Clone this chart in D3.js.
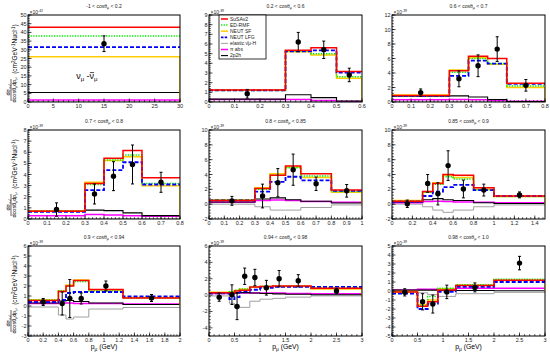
<!DOCTYPE html>
<html>
<head>
<meta charset="utf-8">
<script src="https://cdn.jsdelivr.net/npm/d3@7"></script>
<style>
body { margin: 0; background: #fff; }
svg text { font-family: "Liberation Sans", Arial, sans-serif; }
</style>
</head>
<body>
<div id="chart"></div>
<script>
// panel ranges (cos theta bins)
var cosLo = ["-1", "0.2", "0.6", "0.7", "0.8", "0.85", "0.9", "0.94", "0.98"];
var cosHi = ["0.2", "0.6", "0.7", "0.8", "0.85", "0.9", "0.94", "0.98", "1.0"];
var expo = ["-42", "-39", "-39", "-39", "-39", "-39", "-39", "-39", "-39"];

var xMax = [30, 0.6, 0.8, 0.8, 1, 1.5, 2, 3, 3];
var yMin = [0, 0, 0, 0, -2, -2, -3, -5, -5];
var yMax = [50, 9, 12, 8, 10, 10, 6, 6, 5];
var xStep = [5, 0.1, 0.1, 0.1, 0.1, 0.2, 0.2, 0.5, 0.5];
var yStep = [5, 1, 2, 1, 2, 2, 1, 2, 1];

var binEdges = [
  [0, 30],
  [0, 0.3, 0.4, 0.5, 0.6],
  [0, 0.3, 0.4, 0.5, 0.6, 0.8],
  [0, 0.3, 0.4, 0.5, 0.6, 0.8],
  [0, 0.3, 0.4, 0.5, 0.6, 0.8, 1.0],
  [0, 0.3, 0.4, 0.5, 0.6, 0.8, 1.0, 1.5],
  [0, 0.4, 0.5, 0.6, 0.8, 1.25, 2.0],
  [0, 0.4, 0.5, 0.6, 0.8, 1.0, 1.25, 1.5, 2.0, 3.0],
  [0, 0.5, 0.7, 0.9, 1.25, 2.0, 3.0]
];

var susav2 = [
  [43],
  [1.25, 5.35, 5.6, 3.15],
  [0.9, 4.3, 6.3, 6.0, 2.6],
  [0.7, 3.2, 5.45, 6.15, 3.7],
  [0.5, 2.1, 3.9, 5.15, 4.1, 1.9],
  [0.4, 1.7, 2.8, 4.0, 3.9, 2.2, 1.1],
  [0.55, 1.45, 2.0, 2.55, 1.65, 0.8],
  [0.3, 0.3, 0.5, 0.6, 1.0, 1.05, 1.1, 1.1, 0.85],
  [-0.1, -1.7, -1.2, 0.1, 0.6, 1.2]
];
var edrmf = [
  [38],
  [1.2, 5.25, 5.0, 2.6],
  [0.85, 4.1, 6.0, 5.3, 2.2],
  [0.7, 3.1, 5.3, 5.75, 3.2],
  [0.55, 2.0, 3.9, 4.9, 3.8, 1.7],
  [0.4, 1.6, 2.7, 3.7, 3.4, 1.9, 1.05],
  [0.6, 1.5, 2.0, 2.45, 1.5, 0.8],
  [0.3, 0.4, 0.6, 0.75, 1.0, 1.05, 1.1, 1.1, 0.9],
  [-0.1, -1.6, -0.6, 0.3, 0.7, 1.3]
];
var neutSF = [
  [26],
  [1.25, 5.2, 4.85, 2.45],
  [0.95, 4.4, 6.1, 5.2, 2.0],
  [0.75, 3.3, 5.25, 5.6, 3.0],
  [0.6, 2.2, 4.1, 5.0, 3.6, 1.6],
  [0.5, 1.6, 2.9, 3.9, 3.6, 2.0, 1.05],
  [0.6, 1.5, 2.1, 2.6, 1.6, 0.85],
  [0.35, 0.4, 0.55, 0.7, 1.0, 1.05, 1.05, 1.05, 0.75],
  [-0.05, -1.5, -1.0, 0.25, 0.65, 1.2]
];
var neutLFG = [
  [31.5],
  [1.2, 5.25, 5.35, 3.05],
  [0.85, 3.6, 5.7, 5.3, 2.5],
  [0.65, 2.6, 4.4, 5.1, 3.1],
  [0.5, 1.7, 3.0, 3.7, 3.2, 1.8],
  [0.35, 1.1, 1.7, 2.3, 2.6, 1.9, 1.1],
  [0.4, 0.6, 1.3, 1.4, 1.4, 0.95],
  [0.2, -0.5, -0.25, 0.45, 0.65, 0.9, 1.0, 1.0, 1.0],
  [-0.3, -2.0, -1.4, -0.1, 0.45, 1.0]
];
var elastic = [
  [0],
  [0, 0, 0, 0],
  [0, 0, 0, 0, 0],
  [0, 0, 0, 0, 0],
  [0, -0.35, -0.8, -0.8, -0.45, -0.1],
  [0, -0.35, -0.8, -1.1, -0.8, -0.35, -0.1],
  [-0.1, -0.9, -1.3, -1.1, -0.3, -0.15],
  [-0.1, -1.0, -1.5, -1.5, -0.75, -0.5, -0.4, -0.25, -0.1],
  [0, -0.2, -0.4, -0.6, -0.3, -0.15]
];
var piAbs = [
  [1.2],
  [0.25, 0.25, 0.15, 0.05],
  [0.3, 0.35, 0.3, 0.2, 0.1],
  [0.3, 0.4, 0.35, 0.3, 0.25],
  [0.25, 0.5, 0.55, 0.5, 0.35, 0.25],
  [0.2, 0.35, 0.4, 0.35, 0.3, 0.25, 0.2],
  [0.25, 0.3, 0.3, 0.25, 0.25, 0.2],
  [0.2, 0.2, 0.25, 0.25, 0.25, 0.25, 0.25, 0.2, 0.15],
  [0.1, 0.2, 0.2, 0.25, 0.3, 0.3]
];
var twoP2h = [
  [5.5],
  [0.3, 0.75, 0.45, 0.1],
  [0.8, 0.85, 0.7, 0.35, 0.05],
  [0.7, 0.8, 0.75, 0.55, 0.3],
  [0.3, 0.7, 0.85, 0.6, 0.4, 0.15],
  [0.3, 0.6, 0.75, 0.6, 0.5, 0.2, 0.1],
  [0.3, 0.5, 0.55, 0.45, 0.3, 0.15],
  [0.3, 0.3, 0.3, 0.3, 0.25, 0.2, 0.15, 0.1, 0.05],
  [0.1, 0.1, 0.1, 0.05, 0.05, 0.02]
];

var dataX = [
  [15],
  [0.15, 0.35, 0.45, 0.55],
  [0.15, 0.35, 0.45, 0.55, 0.7],
  [0.15, 0.35, 0.45, 0.55, 0.7],
  [0.15, 0.35, 0.45, 0.55, 0.7, 0.9],
  [0.15, 0.35, 0.45, 0.55, 0.7, 0.9, 1.25],
  [0.2, 0.45, 0.55, 0.7, 1.025, 1.625],
  [0.2, 0.45, 0.55, 0.7, 0.9, 1.125, 1.375, 1.75, 2.5],
  [0.25, 0.6, 0.8, 1.075, 1.625, 2.5]
];
var dataY = [
  [33.5],
  [0.85, 6.2, 5.4, 2.8],
  [1.3, 3.2, 5.0, 7.3, 2.3],
  [0.85, 2.25, 3.85, 4.9, 3.3],
  [0.45, 1.1, 2.9, 4.65, 2.75, 1.8],
  [0.05, 2.8, 1.4, 5.2, 2.05, 1.9, 1.25],
  [0.4, 0.25, 0.75, 0.75, 2.0, 0.8],
  [-0.25, 0.05, -1.4, 2.3, 2.15, 0.9, 2.0, 1.75, 0.5],
  [-0.15, -1.2, -1.45, -0.1, 0.4, 3.1]
];
var dataErr = [
  [4.5],
  [0.45, 1.0, 0.9, 0.7],
  [0.5, 1.1, 1.5, 1.7, 0.8],
  [0.6, 0.9, 1.3, 1.75, 0.9],
  [0.6, 1.6, 1.9, 2.1, 0.9, 0.85],
  [0.5, 1.2, 1.5, 2.0, 1.2, 0.8, 0.4],
  [0.35, 1.15, 1.9, 0.55, 0.5, 0.35],
  [0.5, 1.2, 1.6, 1.0, 1.0, 0.9, 1.0, 0.75, 0.3],
  [0.4, 0.9, 1.0, 0.75, 0.5, 0.75]
];

var legendNames = ["SuSAv2", "ED-RMF", "NEUT SF", "NEUT LFG", "elastic \u03BD\u0304\u03BC-H", "\u03C0 abs", "2p2h"];

// styles
var series = [
  {vals: elastic, color: "#a0a0a0", w: 1, dash: null},
  {vals: piAbs, color: "#ff00ff", w: 1.5, dash: null},
  {vals: twoP2h, color: "#000", w: 1.1, dash: null},
  {vals: neutSF, color: "#ffcc00", w: 1.5, dash: null, close: true},
  {vals: edrmf, color: "#00ee00", w: 1.5, dash: "1.3,1.3"},
  {vals: neutLFG, color: "#0000ff", w: 1.8, dash: "4,2"},
  {vals: susav2, color: "#ff0000", w: 1.5, dash: null}
];
var legendStyle = [6, 4, 3, 5, 0, 1, 2];

var colX = [[28, 180], [209, 362], [392, 545]];
var rowY = [[15, 102], [130, 219], [246, 336]];

var svg = d3.select("#chart").append("svg")
    .attr("width", 550)
    .attr("height", 355);

var r3 = function(v) { return Math.round(v * 1000) / 1000; };

var line = d3.line().curve(d3.curveStepAfter);

for (var i = 0; i < 9; i++) {
    var col = i % 3, row = Math.floor(i / 3);
    var L = colX[col][0], R = colX[col][1], T = rowY[row][0], B = rowY[row][1];

    var x = d3.scaleLinear().domain([0, xMax[i]]).range([L, R]);
    var y = d3.scaleLinear().domain([yMin[i], yMax[i]]).range([B, T]);

    var g = svg.append("g");

    g.append("clipPath").attr("id", "clip" + i)
        .append("rect").attr("x", L).attr("y", T).attr("width", R - L).attr("height", B - T);

    var plot = g.append("g").attr("clip-path", "url(#clip" + i + ")");

    var edges = binEdges[i];
    series.forEach(function(s) {
        var v = s.vals[i];
        var pts = v.map(function(d, k) { return [x(edges[k]), y(d)]; });
        pts.push([x(edges[edges.length - 1]), y(v[v.length - 1])]);
        var path = line(pts);
        if (s.close) path += "L" + x(edges[edges.length - 1]) + "," + y(0);
        plot.append("path")
            .attr("d", path)
            .attr("fill", "none")
            .attr("stroke", s.color)
            .attr("stroke-width", s.w)
            .attr("stroke-dasharray", s.dash);
    });

    // data points
    var pts = dataX[i].map(function(d, k) { return {x: d, y: dataY[i][k], e: dataErr[i][k]}; });
    var pg = plot.selectAll(".pt").data(pts).enter().append("g");
    pg.append("line")
        .attr("x1", function(d) { return x(d.x); })
        .attr("x2", function(d) { return x(d.x); })
        .attr("y1", function(d) { return y(d.y - d.e); })
        .attr("y2", function(d) { return y(d.y + d.e); })
        .attr("stroke", "#000").attr("stroke-width", 1);
    [-1, 1].forEach(function(sg) {
        pg.append("line")
            .attr("x1", function(d) { return x(d.x) - 1.5; })
            .attr("x2", function(d) { return x(d.x) + 1.5; })
            .attr("y1", function(d) { return y(d.y + sg * d.e); })
            .attr("y2", function(d) { return y(d.y + sg * d.e); })
            .attr("stroke", "#000").attr("stroke-width", 1);
    });
    pg.append("circle")
        .attr("cx", function(d) { return x(d.x); })
        .attr("cy", function(d) { return y(d.y); })
        .attr("r", 2.7)
        .attr("fill", "#000");

    // frame
    g.append("rect")
        .attr("x", L).attr("y", T).attr("width", R - L).attr("height", B - T)
        .attr("fill", "none").attr("stroke", "#000").attr("stroke-width", 1);

    // ticks
    var xt = d3.range(0, xMax[i] + 1e-9, xStep[i]).map(r3);
    var xm = d3.range(0, xMax[i] + 1e-9, xStep[i] / 5).map(r3);
    var y0 = Math.ceil(yMin[i] / yStep[i] - 1e-9) * yStep[i];
    var yt = d3.range(y0, yMax[i] + 1e-9, yStep[i]).map(r3);
    var ym = d3.range(yMin[i], yMax[i] + 1e-9, yStep[i] / 5).map(r3);

    g.selectAll(".xm").data(xm).enter().append("line")
        .attr("x1", x).attr("x2", x).attr("y1", B).attr("y2", B - 1.8)
        .attr("stroke", "#000").attr("stroke-width", 0.7);
    g.selectAll(".xt").data(xt).enter().append("line")
        .attr("x1", x).attr("x2", x).attr("y1", B).attr("y2", B - 3.5)
        .attr("stroke", "#000").attr("stroke-width", 0.7);
    g.selectAll(".ymn").data(ym).enter().append("line")
        .attr("y1", y).attr("y2", y).attr("x1", L).attr("x2", L + 1.8)
        .attr("stroke", "#000").attr("stroke-width", 0.7);
    g.selectAll(".ytk").data(yt).enter().append("line")
        .attr("y1", y).attr("y2", y).attr("x1", L).attr("x2", L + 3.5)
        .attr("stroke", "#000").attr("stroke-width", 0.7);

    g.selectAll(".xl").data(xt).enter().append("text")
        .attr("x", x).attr("y", B + 5.5)
        .attr("text-anchor", "middle")
        .attr("font-size", 5.5).attr("fill", "#222")
        .text(function(d) { return d; });
    g.selectAll(".yl").data(yt).enter().append("text")
        .attr("x", L - 1.5).attr("y", function(d) { return y(d) + 2; })
        .attr("text-anchor", "end")
        .attr("font-size", 5.5).attr("fill", "#222")
        .text(function(d) { return d; });

    // exponent
    var ex = g.append("text").attr("x", L + 1.5).attr("y", T - 1)
        .attr("font-size", 5).attr("fill", "#222");
    ex.append("tspan").text("\u00D710");
    ex.append("tspan").attr("dy", -2).attr("font-size", 3.5).text(expo[i]);

    // title
    var tt = g.append("text").attr("x", (L + R) / 2).attr("y", T - 7)
        .attr("text-anchor", "middle").attr("font-size", 5).attr("fill", "#222");
    tt.append("tspan").text(cosLo[i] + " < cos\u03B8");
    tt.append("tspan").attr("dy", 1.2).attr("font-size", 3.6).text("\u03BC");
    tt.append("tspan").attr("dy", -1.2).text(" < " + cosHi[i]);

    // y title in first column
    if (col === 0) {
        var fr = svg.append("g").attr("transform", "translate(11," + (T + 75) + ") rotate(-90)");
        var num = fr.append("text").attr("x", 0).attr("y", -1.5)
            .attr("text-anchor", "middle").attr("font-size", 5.5);
        num.append("tspan").text("d\u03C3");
        num.append("tspan").attr("dy", 1.5).attr("font-size", 3.5).text("\u03BD-\u03BD\u0304");
        fr.append("line").attr("x1", -11).attr("x2", 11).attr("y1", 0).attr("y2", 0)
            .attr("stroke", "#000").attr("stroke-width", 0.6);
        var den = fr.append("text").attr("x", 0).attr("y", 5)
            .attr("text-anchor", "middle").attr("font-size", 5.5);
        den.append("tspan").text("dcos\u03B8");
        den.append("tspan").attr("dy", 1.3).attr("font-size", 3.5).text("\u03BC");
        den.append("tspan").attr("dy", -1.3).text("dp");
        den.append("tspan").attr("dy", 1.3).attr("font-size", 3.5).text("\u03BC");

        var un = svg.append("text")
            .attr("transform", "translate(17," + (T + 34) + ") rotate(-90)")
            .attr("text-anchor", "middle").attr("font-size", 6.5);
        un.append("tspan").text("(cm");
        un.append("tspan").attr("dy", -2.3).attr("font-size", 4.5).text("2");
        un.append("tspan").attr("dy", 2.3).text("GeV");
        un.append("tspan").attr("dy", -2.3).attr("font-size", 4.5).text("-1");
        un.append("tspan").attr("dy", 2.3).text("Nucl");
        un.append("tspan").attr("dy", -2.3).attr("font-size", 4.5).text("-1");
        un.append("tspan").attr("dy", 2.3).text(")");
    }

    // x title in bottom row
    if (row === 2) {
        var xl = svg.append("text").attr("x", (L + R) / 2).attr("y", B + 13)
            .attr("text-anchor", "middle").attr("font-size", 6.8);
        xl.append("tspan").text("p");
        xl.append("tspan").attr("dy", 1.6).attr("font-size", 4.8).text("\u03BC");
        xl.append("tspan").attr("dy", -1.6).text(" (GeV)");
    }

    // neutrino label in first panel
    if (i === 0) {
        var nx = x(9.5), ny = y(13);
        var t1 = g.append("text").attr("x", nx).attr("y", ny)
            .attr("font-size", 9).attr("font-family", "Liberation Serif");
        t1.append("tspan").text("\u03BD");
        t1.append("tspan").attr("dy", 2).attr("font-size", 6).text("\u03BC");
        t1.append("tspan").attr("dy", -2).text(" - ");
        var w1 = t1.node().getComputedTextLength();
        var t2 = g.append("text").attr("x", nx + w1).attr("y", ny)
            .attr("font-size", 9).attr("font-family", "Liberation Serif");
        t2.append("tspan").text("\u03BD");
        t2.append("tspan").attr("dy", 2).attr("font-size", 6).text("\u03BC");
        g.append("line").attr("x1", nx + w1 + 0.3).attr("x2", nx + w1 + 4.5)
            .attr("y1", ny - 6.8).attr("y2", ny - 6.8)
            .attr("stroke", "#000").attr("stroke-width", 0.7);
    }

    // legend in second panel
    if (i === 1) {
        var lx = 219, ly = T, lw = 47, lh = 44;
        var lg = g.append("g");
        lg.append("rect").attr("x", lx).attr("y", ly).attr("width", lw).attr("height", lh)
            .attr("fill", "#fff").attr("stroke", "#000").attr("stroke-width", 0.8);
        legendNames.forEach(function(name, k) {
            var s = series[legendStyle[k]];
            var yy = ly + 4 + k * 6.1;
            lg.append("line").attr("x1", lx + 2).attr("x2", lx + 9)
                .attr("y1", yy).attr("y2", yy)
                .attr("stroke", s.color).attr("stroke-width", s.w)
                .attr("stroke-dasharray", s.dash ? (s.dash === "4,2" ? "2.5,1.2" : s.dash) : null);
            lg.append("text").attr("x", lx + 11).attr("y", yy + 1.8)
                .attr("font-size", 5).attr("fill", "#222").text(name);
        });
    }
}
</script>
</body>
</html>
